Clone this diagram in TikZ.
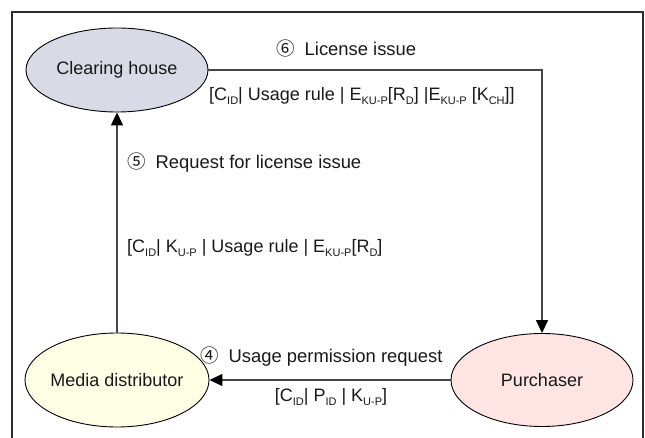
\documentclass[tikz,border=0pt]{standalone}
\usepackage{fontspec}
\setmainfont{Liberation Sans}
\newfontfamily\circfont{Noto Sans CJK JP}
\usetikzlibrary{shapes.geometric,arrows.meta}

\definecolor{chfill}{RGB}{218,218,230}
\definecolor{mdfill}{RGB}{255,255,230}
\definecolor{pufill}{RGB}{255,228,228}
\definecolor{linegray}{RGB}{70,70,70}
\definecolor{framegray}{RGB}{45,45,45}
\definecolor{textgray}{RGB}{25,25,25}

% small lowered index used in the message labels
\newcommand{\lsub}[1]{\raisebox{-0.25em}{\fontsize{11}{11}\selectfont #1}}
\newcommand{\circnum}[1]{{\circfont\fontsize{18.5}{18.5}\selectfont #1}\hspace{10pt}}

\tikzset{
  party/.style={shape=ellipse, draw=black, line width=0.9pt, inner sep=0pt,
                text=textgray, font=\fontsize{18}{20}\selectfont},
  msg/.style={draw=linegray, line width=1.4pt,
              -{Triangle[length=13pt,width=12pt,fill=black,color=black]}},
  lbl/.style={inner sep=0pt, text=textgray, font=\fontsize{18}{20}\selectfont},
  steplbl/.style={lbl, font=\fontsize{18.4}{20}\selectfont},
}

\begin{document}
\begin{tikzpicture}[x=1pt,y=-1pt]
  \useasboundingbox (0,0) rectangle (645,438);
  \fill[white] (0,0) rectangle (645,438);

  % outer frame, open at the bottom
  \draw[framegray, line width=1.6pt] (12,438) -- (12,12) -- (643,12) -- (643,438);

  % parties
  \node[party, fill=chfill, minimum width=182pt, minimum height=84pt] (ch) at (117,70)
    {\makebox[0pt][c]{Clearing house}};
  \node[party, fill=mdfill, minimum width=184pt, minimum height=94pt] (md) at (117,380)
    {\makebox[0pt][c]{Media distributor}};
  \node[party, fill=pufill, minimum width=182pt, minimum height=93pt] (pu) at (542,380)
    {\makebox[0pt][c]{Purchaser}};

  % message flows
  \draw[msg] (ch.east) -| (pu.north);
  \draw[msg] (md.north) -- (ch.south);
  \draw[msg] (pu.west) -- (md.east);

  % message labels
  \node[steplbl, anchor=west] (l6) at (276,48) {\circnum{⑥}License issue};
  \node[lbl, anchor=west] (l6b) at (209,96)
    {[C\lsub{ID}| Usage rule | E\lsub{KU-P}[R\lsub{D}] |E\lsub{KU-P} [K\lsub{CH}]]};
  \node[steplbl, anchor=west] (l5) at (127,163) {\circnum{⑤}Request for license issue};
  \node[lbl, anchor=west] (l5b) at (127,248)
    {[C\lsub{ID}| K\lsub{U-P} | Usage rule | E\lsub{KU-P}[R\lsub{D}]};
  \node[steplbl, anchor=west] (l4) at (200,357) {\circnum{④}Usage permission request};
  \node[lbl] (l4b) at (331,397) {[C\lsub{ID}| P\lsub{ID} | K\lsub{U-P}]};
\end{tikzpicture}
\end{document}
